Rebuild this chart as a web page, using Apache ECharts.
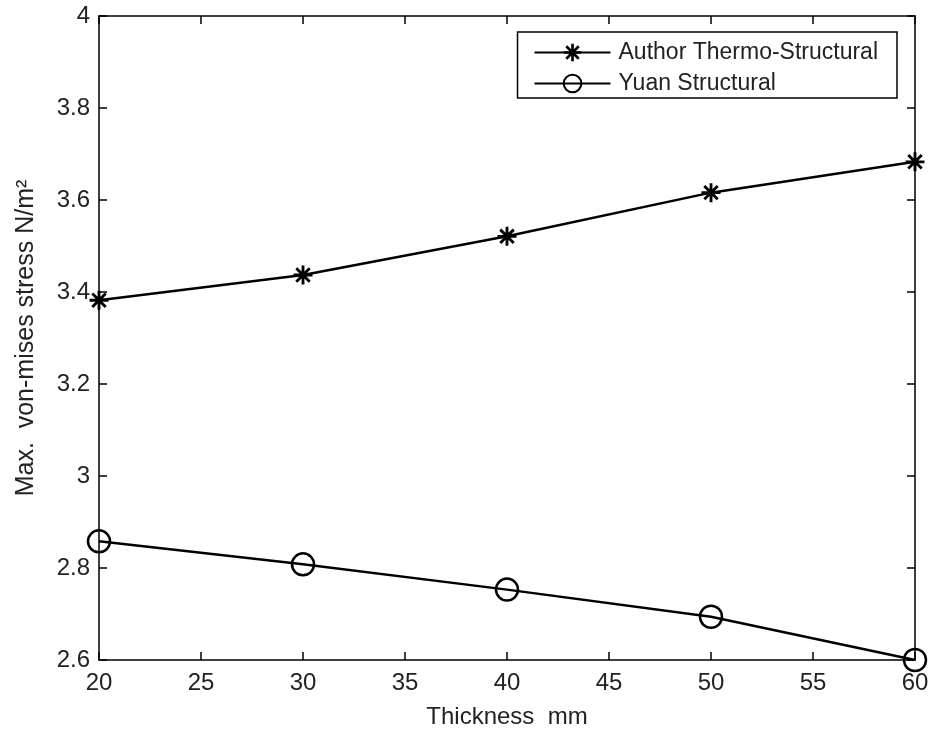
<!DOCTYPE html>
<html>
<head>
<meta charset="utf-8">
<script src="https://cdn.jsdelivr.net/npm/echarts@6/dist/echarts.min.js"></script>
<style>
  html, body { margin: 0; padding: 0; background: #fff; }
  #chart { width: 930px; height: 730px; }
</style>
</head>
<body>
<div id="chart"></div>
<script>
// data
const thickness = [20, 30, 40, 50, 60];
const authorThermo = [3.382, 3.437, 3.521, 3.616, 3.683];
const yuanStructural = [2.858, 2.808, 2.753, 2.694, 2.600];

// asterisk marker (horizontal, vertical and two diagonal bars)
const starPath = "path://M0 8.5L20 8.5L20 11.5L0 11.5Z M8.5 0L11.5 0L11.5 20L8.5 20Z " +
  "M3.99 1.87L18.13 16.01L16.01 18.13L1.87 3.99Z " +
  "M18.13 3.99L3.99 18.13L1.87 16.01L16.01 1.87Z";

const font = "Liberation Sans";
const textColor = "#222";
const chart = echarts.init(document.getElementById("chart"));

const frameAxis = {
  axisLine: { show: true, onZero: false, lineStyle: { color: "#000", width: 1.5 } },
  axisTick: { show: true, inside: true, length: 8, lineStyle: { color: "#000", width: 1.5 } },
  splitLine: { show: false },
};

chart.setOption({
  backgroundColor: "#fff",
  animation: false,
  grid: { left: 99, right: 15, top: 16, bottom: 70, outerBoundsMode: "none" },
  legend: {
    right: 33,
    top: 32,
    orient: "vertical",
    itemWidth: 76,
    itemHeight: 22,
    itemGap: 8,
    padding: [9, 19, 3, 16],
    borderColor: "#000",
    borderWidth: 1.5,
    backgroundColor: "#fff",
    textStyle: { fontFamily: font, fontSize: 23, color: textColor, padding: [0, 0, 0, 3] },
    data: ["Author Thermo-Structural", "Yuan Structural"],
  },
  xAxis: [
    Object.assign({
      type: "value",
      min: 20,
      max: 60,
      interval: 5,
      name: "Thickness  mm",
      nameLocation: "middle",
      nameGap: 45,
      nameTextStyle: { fontFamily: font, fontSize: 24, color: textColor },
      axisLabel: { fontFamily: font, fontSize: 24, color: textColor, margin: 11 },
    }, frameAxis),
    Object.assign({
      type: "value",
      position: "top",
      min: 20,
      max: 60,
      interval: 5,
      axisLabel: { show: false },
    }, frameAxis),
  ],
  yAxis: [
    Object.assign({
      type: "value",
      min: 2.6,
      max: 4,
      interval: 0.2,
      name: "Max.  von-mises stress N/m²",
      nameLocation: "middle",
      nameGap: 60,
      nameTextStyle: { fontFamily: font, fontSize: 25, color: textColor },
      axisLabel: {
        fontFamily: font, fontSize: 24, color: textColor, margin: 9,
        formatter: (v) => String(+v.toFixed(1)),
      },
    }, frameAxis),
    Object.assign({
      type: "value",
      position: "right",
      min: 2.6,
      max: 4,
      interval: 0.2,
      axisLabel: { show: false },
    }, frameAxis),
  ],
  series: [
    {
      name: "Author Thermo-Structural",
      type: "line",
      data: thickness.map((t, i) => [t, authorThermo[i]]),
      symbol: starPath,
      symbolSize: 19,
      showAllSymbol: true,
      lineStyle: { color: "#000", width: 2.5 },
      itemStyle: { color: "#000" },
      z: 3,
    },
    {
      name: "Yuan Structural",
      type: "line",
      data: thickness.map((t, i) => [t, yuanStructural[i]]),
      symbol: "circle",
      symbolSize: 22,
      showAllSymbol: true,
      lineStyle: { color: "#000", width: 2.5 },
      itemStyle: { color: "rgba(0,0,0,0)", borderColor: "#000", borderWidth: 2.5 },
      z: 3,
    },
  ],
});
</script>
</body>
</html>
